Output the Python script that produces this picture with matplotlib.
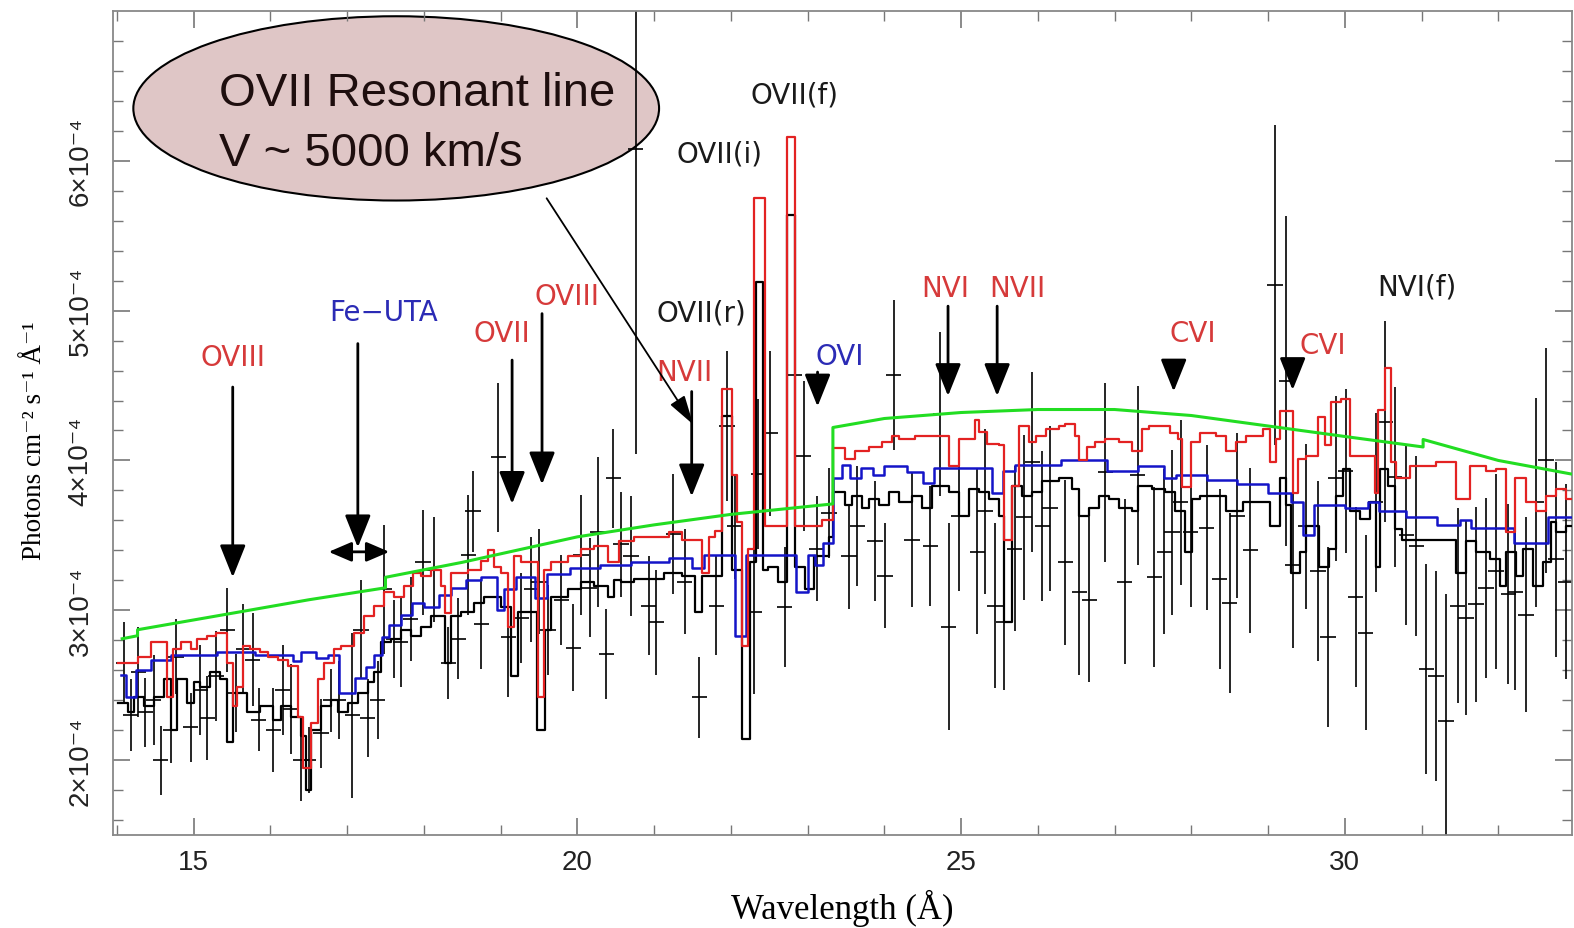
import matplotlib
matplotlib.use("Agg")
import matplotlib.pyplot as plt
from matplotlib.patches import Ellipse

plt.rcParams['font.family'] = ['Liberation Sans', 'DejaVu Sans']

UNIT = 1e-4   # all fluxes below are in units of 1e-4 photons cm^-2 s^-1 A^-1

# observed spectrum: wavelength (A), flux, 1-sigma error
obs_wave = [14.09, 14.18, 14.28, 14.37, 14.48, 14.57, 14.70, 14.77, 14.96, 15.09,
            15.18, 15.29, 15.44, 15.55, 15.65, 15.77, 15.85, 16.04, 16.16, 16.27,
            16.40, 16.50, 16.66, 16.79, 16.89, 17.07, 17.18, 17.27, 17.40, 17.48,
            17.61, 17.70, 17.83, 17.99, 18.13, 18.32, 18.45, 18.58, 18.64, 18.75,
            18.97, 19.10, 19.27, 19.40, 19.50, 19.62, 19.79, 19.95, 20.05, 20.16,
            20.27, 20.38, 20.47, 20.57, 20.70, 20.76, 20.93, 21.03, 21.25, 21.40,
            21.59, 21.81, 21.95, 22.05, 22.30, 22.36, 22.51, 22.70, 22.83, 22.95,
            23.12, 23.28, 23.54, 23.65, 23.88, 24.01, 24.12, 24.36, 24.60, 24.73,
            24.84, 24.97, 25.21, 25.31, 25.44, 25.56, 25.70, 25.82, 25.93, 26.06,
            26.16, 26.36, 26.54, 26.67, 26.88, 27.13, 27.30, 27.52, 27.65, 27.75,
            27.86, 27.99, 28.20, 28.37, 28.50, 28.60, 28.77, 29.09, 29.24, 29.32,
            29.49, 29.65, 29.78, 29.88, 30.01, 30.14, 30.27, 30.40, 30.53, 30.65,
            30.80, 30.93, 31.06, 31.19, 31.32, 31.47, 31.58, 31.71, 31.84, 31.97,
            32.13, 32.22, 32.36, 32.49, 32.62, 32.75, 32.88]
obs_flux = [2.65, 2.30, 2.59, 2.32, 2.40, 2.00, 2.20, 2.69, 2.22, 2.47,
            2.28, 2.56, 2.87, 2.45, 2.74, 2.67, 2.27, 2.20, 2.47, 2.34,
            2.00, 2.00, 2.18, 2.40, 2.40, 2.30, 2.87, 2.28, 2.40, 3.14,
            2.81, 2.79, 2.94, 3.32, 3.27, 2.65, 2.81, 3.37, 3.66, 2.91,
            4.02, 2.82, 2.95, 3.14, 3.19, 2.87, 3.07, 2.75, 3.37, 3.15,
            3.52, 2.71, 3.88, 3.44, 3.36, 6.08, 3.03, 2.92, 3.51, 3.19,
            2.42, 3.03, 4.23, 3.56, 2.99, 3.91, 4.18, 3.02, 4.57, 4.03,
            3.41, 3.65, 3.36, 3.56, 3.46, 3.23, 4.57, 3.47, 3.43, 4.31,
            2.89, 3.63, 3.39, 3.66, 3.03, 2.92, 3.41, 3.62, 3.99, 3.56,
            3.68, 3.32, 3.12, 3.07, 3.92, 3.19, 3.90, 3.22, 3.39, 3.52,
            3.72, 3.52, 3.55, 3.21, 3.05, 3.63, 3.40, 5.17, 4.53, 3.30,
            3.56, 3.26, 2.82, 3.88, 3.93, 3.09, 2.85, 3.72, 4.26, 3.89,
            3.50, 3.43, 2.61, 2.56, 2.26, 3.03, 2.95, 3.04, 3.15, 3.26,
            3.11, 3.12, 2.97, 3.72, 4.00, 3.34, 3.19]
obs_err = [0.27, 0.24, 0.30, 0.23, 0.30, 0.23, 0.22, 0.25, 0.23, 0.30,
           0.28, 0.30, 0.28, 0.26, 0.30, 0.31, 0.21, 0.28, 0.30, 0.30,
           0.27, 0.22, 0.23, 0.21, 0.26, 0.55, 0.33, 0.26, 0.26, 0.43,
           0.26, 0.30, 0.28, 0.35, 0.35, 0.24, 0.27, 0.40, 0.27, 0.30,
           0.50, 0.40, 0.30, 0.35, 0.35, 0.30, 0.30, 0.29, 0.40, 0.33,
           0.50, 0.30, 0.33, 0.35, 0.40, 2.04, 0.33, 0.35, 0.40, 0.35,
           0.27, 0.33, 0.50, 0.35, 0.55, 0.50, 0.55, 0.40, 0.65, 0.50,
           0.35, 0.30, 0.35, 0.40, 0.40, 0.35, 0.50, 0.45, 0.40, 0.55,
           0.69, 0.50, 0.55, 0.55, 0.55, 0.45, 0.55, 0.55, 0.60, 0.50,
           0.55, 0.55, 0.55, 0.55, 0.60, 0.55, 0.60, 0.60, 0.55, 0.55,
           0.55, 0.50, 0.55, 0.60, 0.60, 0.55, 0.55, 1.07, 1.10, 0.55,
           0.55, 0.60, 0.60, 0.55, 0.55, 0.60, 0.65, 0.60, 0.67, 0.60,
           0.60, 0.60, 0.70, 0.70, 0.85, 0.65, 0.65, 0.65, 0.60, 0.65,
           0.60, 0.65, 0.65, 0.70, 0.75, 0.65, 0.65]

# model histograms: left bin edges and bin values
black_edges = [14.01, 14.14, 14.22, 14.35, 14.48, 14.61, 14.70, 14.79, 14.92, 15.00,
               15.09, 15.22, 15.35, 15.44, 15.52, 15.70, 15.87, 16.04, 16.14, 16.27,
               16.40, 16.46, 16.53, 16.66, 16.79, 16.88, 17.01, 17.14, 17.27, 17.35,
               17.44, 17.57, 17.70, 17.83, 17.96, 18.09, 18.22, 18.27, 18.36, 18.49,
               18.66, 18.79, 19.01, 19.14, 19.23, 19.44, 19.48, 19.58, 19.66, 19.88,
               20.05, 20.22, 20.40, 20.48, 20.57, 20.74, 21.13, 21.36, 21.53, 21.62,
               21.88, 22.01, 22.14, 22.25, 22.33, 22.42, 22.49, 22.62, 22.73, 22.83,
               22.96, 23.09, 23.28, 23.33, 23.49, 23.58, 23.71, 23.80, 23.93, 24.06,
               24.19, 24.36, 24.49, 24.62, 24.84, 24.97, 25.10, 25.23, 25.36, 25.50,
               25.56, 25.67, 25.80, 25.93, 26.06, 26.28, 26.45, 26.54, 26.67, 26.80,
               26.93, 27.06, 27.23, 27.30, 27.49, 27.66, 27.79, 27.92, 28.01, 28.11,
               28.45, 28.67, 28.93, 29.02, 29.16, 29.23, 29.30, 29.42, 29.49, 29.67,
               29.80, 29.88, 29.97, 30.07, 30.20, 30.33, 30.41, 30.46, 30.56, 30.65,
               30.75, 31.45, 31.58, 31.71, 31.89, 32.02, 32.10, 32.23, 32.32, 32.45,
               32.58, 32.68, 32.75, 32.88]
black_vals = [2.38, 2.32, 2.42, 2.36, 2.42, 2.54, 2.20, 2.54, 2.38, 2.52,
              2.49, 2.59, 2.54, 2.12, 2.45, 2.32, 2.36, 2.27, 2.36, 2.29,
              2.16, 1.80, 2.20, 2.36, 2.40, 2.32, 2.38, 2.45, 2.52, 2.59,
              2.79, 2.81, 2.87, 2.83, 2.89, 2.96, 2.96, 2.65, 2.96, 2.99,
              3.05, 3.09, 3.02, 2.56, 2.99, 2.99, 2.20, 2.87, 3.09, 3.14,
              3.19, 3.16, 3.09, 3.20, 3.19, 3.21, 3.25, 3.23, 2.99, 3.23,
              4.30, 3.27, 2.14, 3.32, 5.19, 3.27, 3.29, 3.19, 5.64, 3.29,
              3.14, 3.36, 3.49, 3.79, 3.70, 3.76, 3.68, 3.74, 3.70, 3.79,
              3.72, 3.76, 3.68, 3.83, 3.79, 3.63, 3.81, 3.79, 3.74, 3.63,
              2.92, 3.83, 3.76, 3.79, 3.86, 3.88, 3.81, 3.63, 3.68, 3.76,
              3.74, 3.68, 3.66, 3.83, 3.81, 3.79, 3.66, 3.39, 3.74, 3.76,
              3.66, 3.72, 3.72, 3.56, 3.88, 3.70, 3.25, 3.39, 3.56, 3.29,
              3.41, 3.76, 3.94, 3.66, 3.61, 3.72, 3.29, 3.94, 3.83, 3.54,
              3.47, 3.25, 3.46, 3.39, 3.34, 3.16, 3.39, 3.23, 3.41, 3.16,
              3.32, 3.59, 3.52, 3.56]

blue_edges = [14.05, 14.12, 14.25, 14.45, 14.70, 15.30, 15.80, 16.30, 16.40, 16.60,
              16.75, 16.90, 17.10, 17.25, 17.35, 17.45, 17.55, 17.70, 17.85, 18.00,
              18.20, 18.35, 18.55, 18.75, 18.95, 19.05, 19.20, 19.45, 19.60, 19.90,
              20.30, 20.70, 21.20, 21.50, 21.65, 22.05, 22.20, 22.85, 23.00, 23.10,
              23.20, 23.33, 23.45, 23.55, 23.70, 23.85, 24.00, 24.30, 24.50, 24.65,
              25.40, 25.55, 25.70, 26.30, 26.90, 27.30, 27.65, 27.80, 28.20, 28.60,
              29.00, 29.30, 29.45, 29.60, 30.00, 30.30, 30.45, 30.80, 31.20, 31.50,
              31.65, 32.20, 32.65]
blue_vals = [2.57, 2.42, 2.60, 2.67, 2.70, 2.72, 2.70, 2.66, 2.72, 2.68,
             2.70, 2.45, 2.55, 2.62, 2.70, 2.82, 2.90, 2.97, 3.05, 3.02,
             3.10, 3.15, 3.20, 3.22, 3.00, 3.14, 3.22, 3.08, 3.24, 3.28,
             3.30, 3.32, 3.35, 3.28, 3.37, 2.83, 3.37, 3.12, 3.37, 3.30,
             3.45, 3.88, 3.97, 3.88, 3.95, 3.90, 3.96, 3.92, 3.85, 3.95,
             3.78, 3.93, 3.97, 4.00, 3.93, 3.96, 3.88, 3.90, 3.87, 3.84,
             3.78, 3.72, 3.50, 3.70, 3.68, 3.72, 3.66, 3.62, 3.57, 3.60,
             3.55, 3.45, 3.62]

red_edges = [14.01, 14.27, 14.44, 14.66, 14.73, 14.83, 14.96, 15.05, 15.18, 15.29,
             15.44, 15.51, 15.57, 15.64, 15.74, 15.87, 15.97, 16.10, 16.23, 16.36,
             16.42, 16.53, 16.62, 16.70, 16.83, 16.92, 17.09, 17.22, 17.35, 17.48,
             17.61, 17.74, 17.86, 17.96, 18.09, 18.22, 18.27, 18.36, 18.58, 18.75,
             18.84, 18.92, 19.01, 19.10, 19.18, 19.27, 19.49, 19.57, 19.66, 19.88,
             20.05, 20.22, 20.40, 20.54, 20.74, 21.19, 21.36, 21.62, 21.71, 21.79,
             21.88, 22.01, 22.08, 22.14, 22.23, 22.30, 22.44, 22.73, 22.83, 23.19,
             23.33, 23.49, 23.62, 23.80, 23.97, 24.10, 24.19, 24.40, 24.84, 24.97,
             25.18, 25.23, 25.34, 25.50, 25.56, 25.67, 25.76, 25.89, 25.97, 26.10,
             26.28, 26.36, 26.49, 26.54, 26.64, 26.75, 26.88, 27.06, 27.23, 27.36,
             27.45, 27.72, 27.82, 27.88, 27.99, 28.11, 28.32, 28.45, 28.58, 28.71,
             28.93, 29.02, 29.10, 29.16, 29.32, 29.39, 29.49, 29.65, 29.74, 29.82,
             29.95, 30.07, 30.39, 30.43, 30.52, 30.60, 30.67, 30.85, 31.19, 31.45,
             31.63, 31.84, 31.97, 32.10, 32.22, 32.36, 32.49, 32.62, 32.75, 32.88]
red_vals = [2.65, 2.69, 2.79, 2.42, 2.74, 2.79, 2.74, 2.81, 2.83, 2.85,
            2.65, 2.36, 2.49, 2.76, 2.74, 2.72, 2.69, 2.67, 2.63, 2.29,
            1.95, 2.25, 2.54, 2.65, 2.74, 2.76, 2.85, 2.96, 3.03, 3.12,
            3.09, 3.16, 3.25, 3.23, 3.27, 3.16, 2.98, 3.25, 3.27, 3.33,
            3.40, 3.29, 3.25, 2.89, 3.36, 3.32, 2.42, 3.27, 3.32, 3.36,
            3.41, 3.43, 3.32, 3.46, 3.49, 3.52, 3.47, 3.25, 3.49, 3.53,
            4.48, 3.90, 3.59, 2.76, 3.41, 5.75, 3.56, 6.16, 3.56, 3.60,
            4.08, 4.01, 4.06, 4.09, 4.12, 4.16, 4.14, 4.16, 3.96, 4.14,
            4.27, 4.19, 4.11, 4.10, 3.47, 3.83, 4.23, 4.12, 4.16, 4.21,
            4.23, 4.24, 4.16, 4.00, 4.09, 4.12, 4.14, 4.12, 4.06, 4.21,
            4.23, 4.18, 4.14, 3.82, 4.12, 4.18, 4.16, 4.06, 4.12, 4.16,
            4.21, 3.99, 4.14, 4.33, 3.78, 4.01, 4.03, 4.29, 4.10, 4.39,
            4.41, 4.03, 3.78, 4.34, 4.62, 3.99, 3.88, 3.96, 3.99, 3.74,
            3.96, 3.93, 3.94, 3.52, 3.88, 3.72, 3.66, 3.76, 3.81, 3.74]

# unabsorbed continuum (vertices, edges drawn as vertical jumps)
cont_wave = [14.07, 14.27, 14.27, 15.5, 16.5, 17.5, 17.5, 18.5, 20.0, 21.0, 22.0, 23.33,
             23.33, 24.0, 25.0, 26.0, 27.0, 28.0, 29.0, 30.0, 31.02, 31.02, 32.0, 33.05]
cont_flux = [2.81, 2.83, 2.87, 2.98, 3.07, 3.15, 3.22, 3.32, 3.49, 3.57, 3.64, 3.71,
             4.22, 4.28, 4.32, 4.34, 4.34, 4.30, 4.23, 4.16, 4.09, 4.14, 4.00, 3.90]

RED, BLUE, GREEN = '#e32222', '#1414c8', '#22dd22'
LRED, LBLUE, LBLACK = '#d63a3a', '#2b2bb5', '#1a1a1a'

# line identifications: text, x, y, colour
line_labels = [("OVIII", 15.51, 4.69, LRED), ("Fe\u2212UTA", 17.48, 4.99, LBLUE),
               ("OVII", 19.02, 4.85, LRED), ("OVIII", 19.87, 5.10, LRED),
               ("OVII(r)", 21.62, 4.99, LBLACK), ("NVII", 21.40, 4.59, LRED),
               ("OVII(i)", 21.85, 6.05, LBLACK), ("OVII(f)", 22.83, 6.44, LBLACK),
               ("OVI", 23.42, 4.70, LBLUE), ("NVI", 24.80, 5.15, LRED),
               ("NVII", 25.73, 5.15, LRED), ("CVI", 28.02, 4.85, LRED),
               ("CVI", 29.71, 4.77, LRED), ("NVI(f)", 30.94, 5.16, LBLACK)]
# downward markers: x, tail, tip
line_arrows = [(15.51, 4.49, 3.22), (17.14, 4.78, 3.42), (19.15, 4.67, 3.71),
               (19.54, 4.98, 3.84), (21.49, 4.46, 3.76), (23.13, 4.59, 4.36),
               (24.83, 5.03, 4.43), (25.47, 5.03, 4.43), (27.77, 4.65, 4.46),
               (29.32, 4.66, 4.47)]


def step_xy(edges, vals, end):
    return list(edges) + [end], [v * UNIT for v in list(vals) + [vals[-1]]]


fig = plt.figure(figsize=(15.74, 9.29), dpi=100)
ax = fig.add_axes([113 / 1574, 1 - 836 / 929, (1572 - 113) / 1574, (836 - 12) / 929])

ax.errorbar(obs_wave, [f * UNIT for f in obs_flux], yerr=[e * UNIT for e in obs_err],
            xerr=0.1, fmt='none', ecolor='black', elinewidth=1.2, capsize=0, zorder=2)

for edges, vals, col, lw in [(black_edges, black_vals, 'black', 1.6),
                             (blue_edges, blue_vals, BLUE, 1.8),
                             (red_edges, red_vals, RED, 1.6)]:
    xs, ys = step_xy(edges, vals, 33.05)
    ax.step(xs, ys, where='post', color=col, lw=lw, zorder=3)

ax.plot(cont_wave, [f * UNIT for f in cont_flux], color=GREEN, lw=2.2, zorder=4)

for txt, x, y, col in line_labels:
    ax.text(x, y * UNIT, txt, color=col, fontsize=20, family='DejaVu Sans',
            ha='center', va='center', zorder=6)

head = dict(arrowstyle='-|>,head_length=1.0,head_width=0.4', color='black',
            lw=2, mutation_scale=20, shrinkA=0, shrinkB=0)
for x, y0, y1 in line_arrows:
    ax.annotate('', xy=(x, y1 * UNIT), xytext=(x, y0 * UNIT), arrowprops=head, zorder=6)
ax.annotate('', xy=(16.76, 3.39 * UNIT), xytext=(17.55, 3.39 * UNIT),
            arrowprops=dict(head, arrowstyle='<|-|>,head_length=0.7,head_width=0.3'), zorder=6)

# callout bubble
ax.add_patch(Ellipse((17.64, 6.35 * UNIT), 6.85, 1.23 * UNIT, facecolor='#dfc6c6',
                     edgecolor='black', lw=1.5, zorder=1))
ax.text(15.33, 6.45 * UNIT, "OVII Resonant line", fontsize=34, color='#1e0e0e',
        ha='left', va='center', zorder=7)
ax.text(15.33, 6.05 * UNIT, "V ~ 5000 km/s", fontsize=34, color='#1e0e0e',
        ha='left', va='center', zorder=7)
ax.annotate('', xy=(21.51, 4.24 * UNIT), xytext=(19.6, 5.75 * UNIT),
            arrowprops=dict(arrowstyle='-|>,head_length=1.2,head_width=0.35',
                            color='black', lw=1.3, mutation_scale=15,
                            shrinkA=0, shrinkB=0), zorder=7)

ax.set_xlim(13.95, 32.96)
ax.set_ylim(1.5 * UNIT, 7.0 * UNIT)

ax.set_xticks([15, 20, 25, 30])
ax.set_xticks(range(14, 33), minor=True)
ax.set_xticklabels(['15', '20', '25', '30'], fontsize=20)
yt = [2, 3, 4, 5, 6]
ax.set_yticks([v * UNIT for v in yt])
ax.set_yticks([(1.6 + 0.2 * i) * UNIT for i in range(27)], minor=True)
ax.set_yticklabels(['%d\u00d710\u207b\u2074' % v for v in yt], fontsize=20,
                   rotation=90, va='center')

ax.tick_params(which='both', direction='in', top=True, right=True, colors='#777777',
               labelcolor='#222222')
ax.tick_params(which='major', length=12, width=1.2)
ax.tick_params(which='minor', length=7, width=1.0)
ax.tick_params(axis='x', pad=10)
ax.tick_params(axis='y', pad=14)
for s in ax.spines.values():
    s.set_color('#888888')
    s.set_linewidth(1.3)

ax.set_xlabel("Wavelength (\u00c5)", fontsize=25,
              family=['Liberation Serif', 'DejaVu Serif'], labelpad=10)
ax.set_ylabel("Photons cm\u207b\u00b2 s\u207b\u00b9 \u00c5\u207b\u00b9", fontsize=19.5,
              family=['Liberation Serif', 'DejaVu Serif'])
ax.yaxis.set_label_coords(-0.045, 0.48)

fig.savefig("out.png", dpi=100)
